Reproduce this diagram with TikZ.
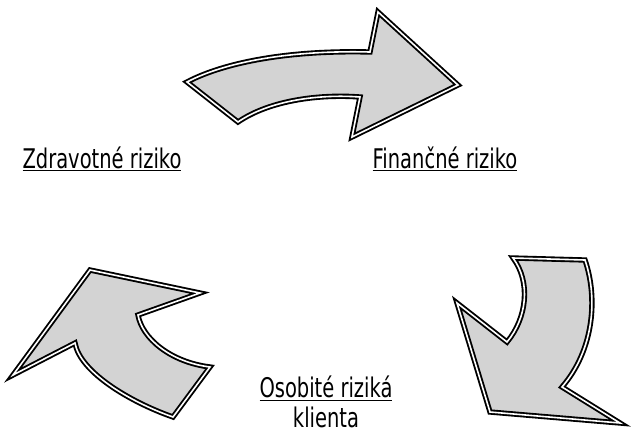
\documentclass[tikz,border=0pt]{standalone}
\usepackage{fontspec}
\setmainfont[FakeStretch=0.72]{DejaVu Sans}
\usepackage{tikz}
\usetikzlibrary{positioning}
\definecolor{arrowgray}{RGB}{211,211,211}
\tikzset{bigarrow/.style = {fill = arrowgray, draw = black, line width = 1.4pt,
                            double = white, double distance = 1.2pt}}
\tikzset{risk/.style = {font = \fontsize{20.3}{22.5}\selectfont, inner sep = 0}}
\begin{document}
\begin{tikzpicture}[x = 0.75pt, y = -0.75pt]
      \useasboundingbox (0, 0) rectangle (632, 437);
      \draw [bigarrow] (187, 82) .. controls (225, 62) and (290, 50) .. (370, 52)
            -- (378, 12) -- (458, 85) -- (352, 137) -- (360, 97)
            .. controls (320, 94) and (270, 100) .. (238, 122) -- cycle;
      \draw [bigarrow] (513, 258) -- (585, 260)
            .. controls (598, 298) and (594, 350) .. (562, 387)
            -- (620, 423) -- (490, 412) -- (457, 303) -- (507, 342)
            .. controls (527, 318) and (531, 282) .. (513, 258) -- cycle;
      \draw [bigarrow] (90, 270) -- (200, 293) -- (138, 315)
            .. controls (142, 338) and (170, 362) .. (210, 367)
            -- (173, 417) .. controls (130, 402) and (80, 372) .. (75, 343)
            -- (13, 375) -- cycle;
      \node [risk, anchor = base] (health) at (102, 168) {\underline{Zdravotné riziko}};
      \node [risk, anchor = base] (finance) at (445, 168) {\underline{Finančné riziko}};
      \node [risk, align = center] (client) at (326, 402) {\underline{Osobité riziká}\\klienta};
    \end{tikzpicture}
\end{document}
